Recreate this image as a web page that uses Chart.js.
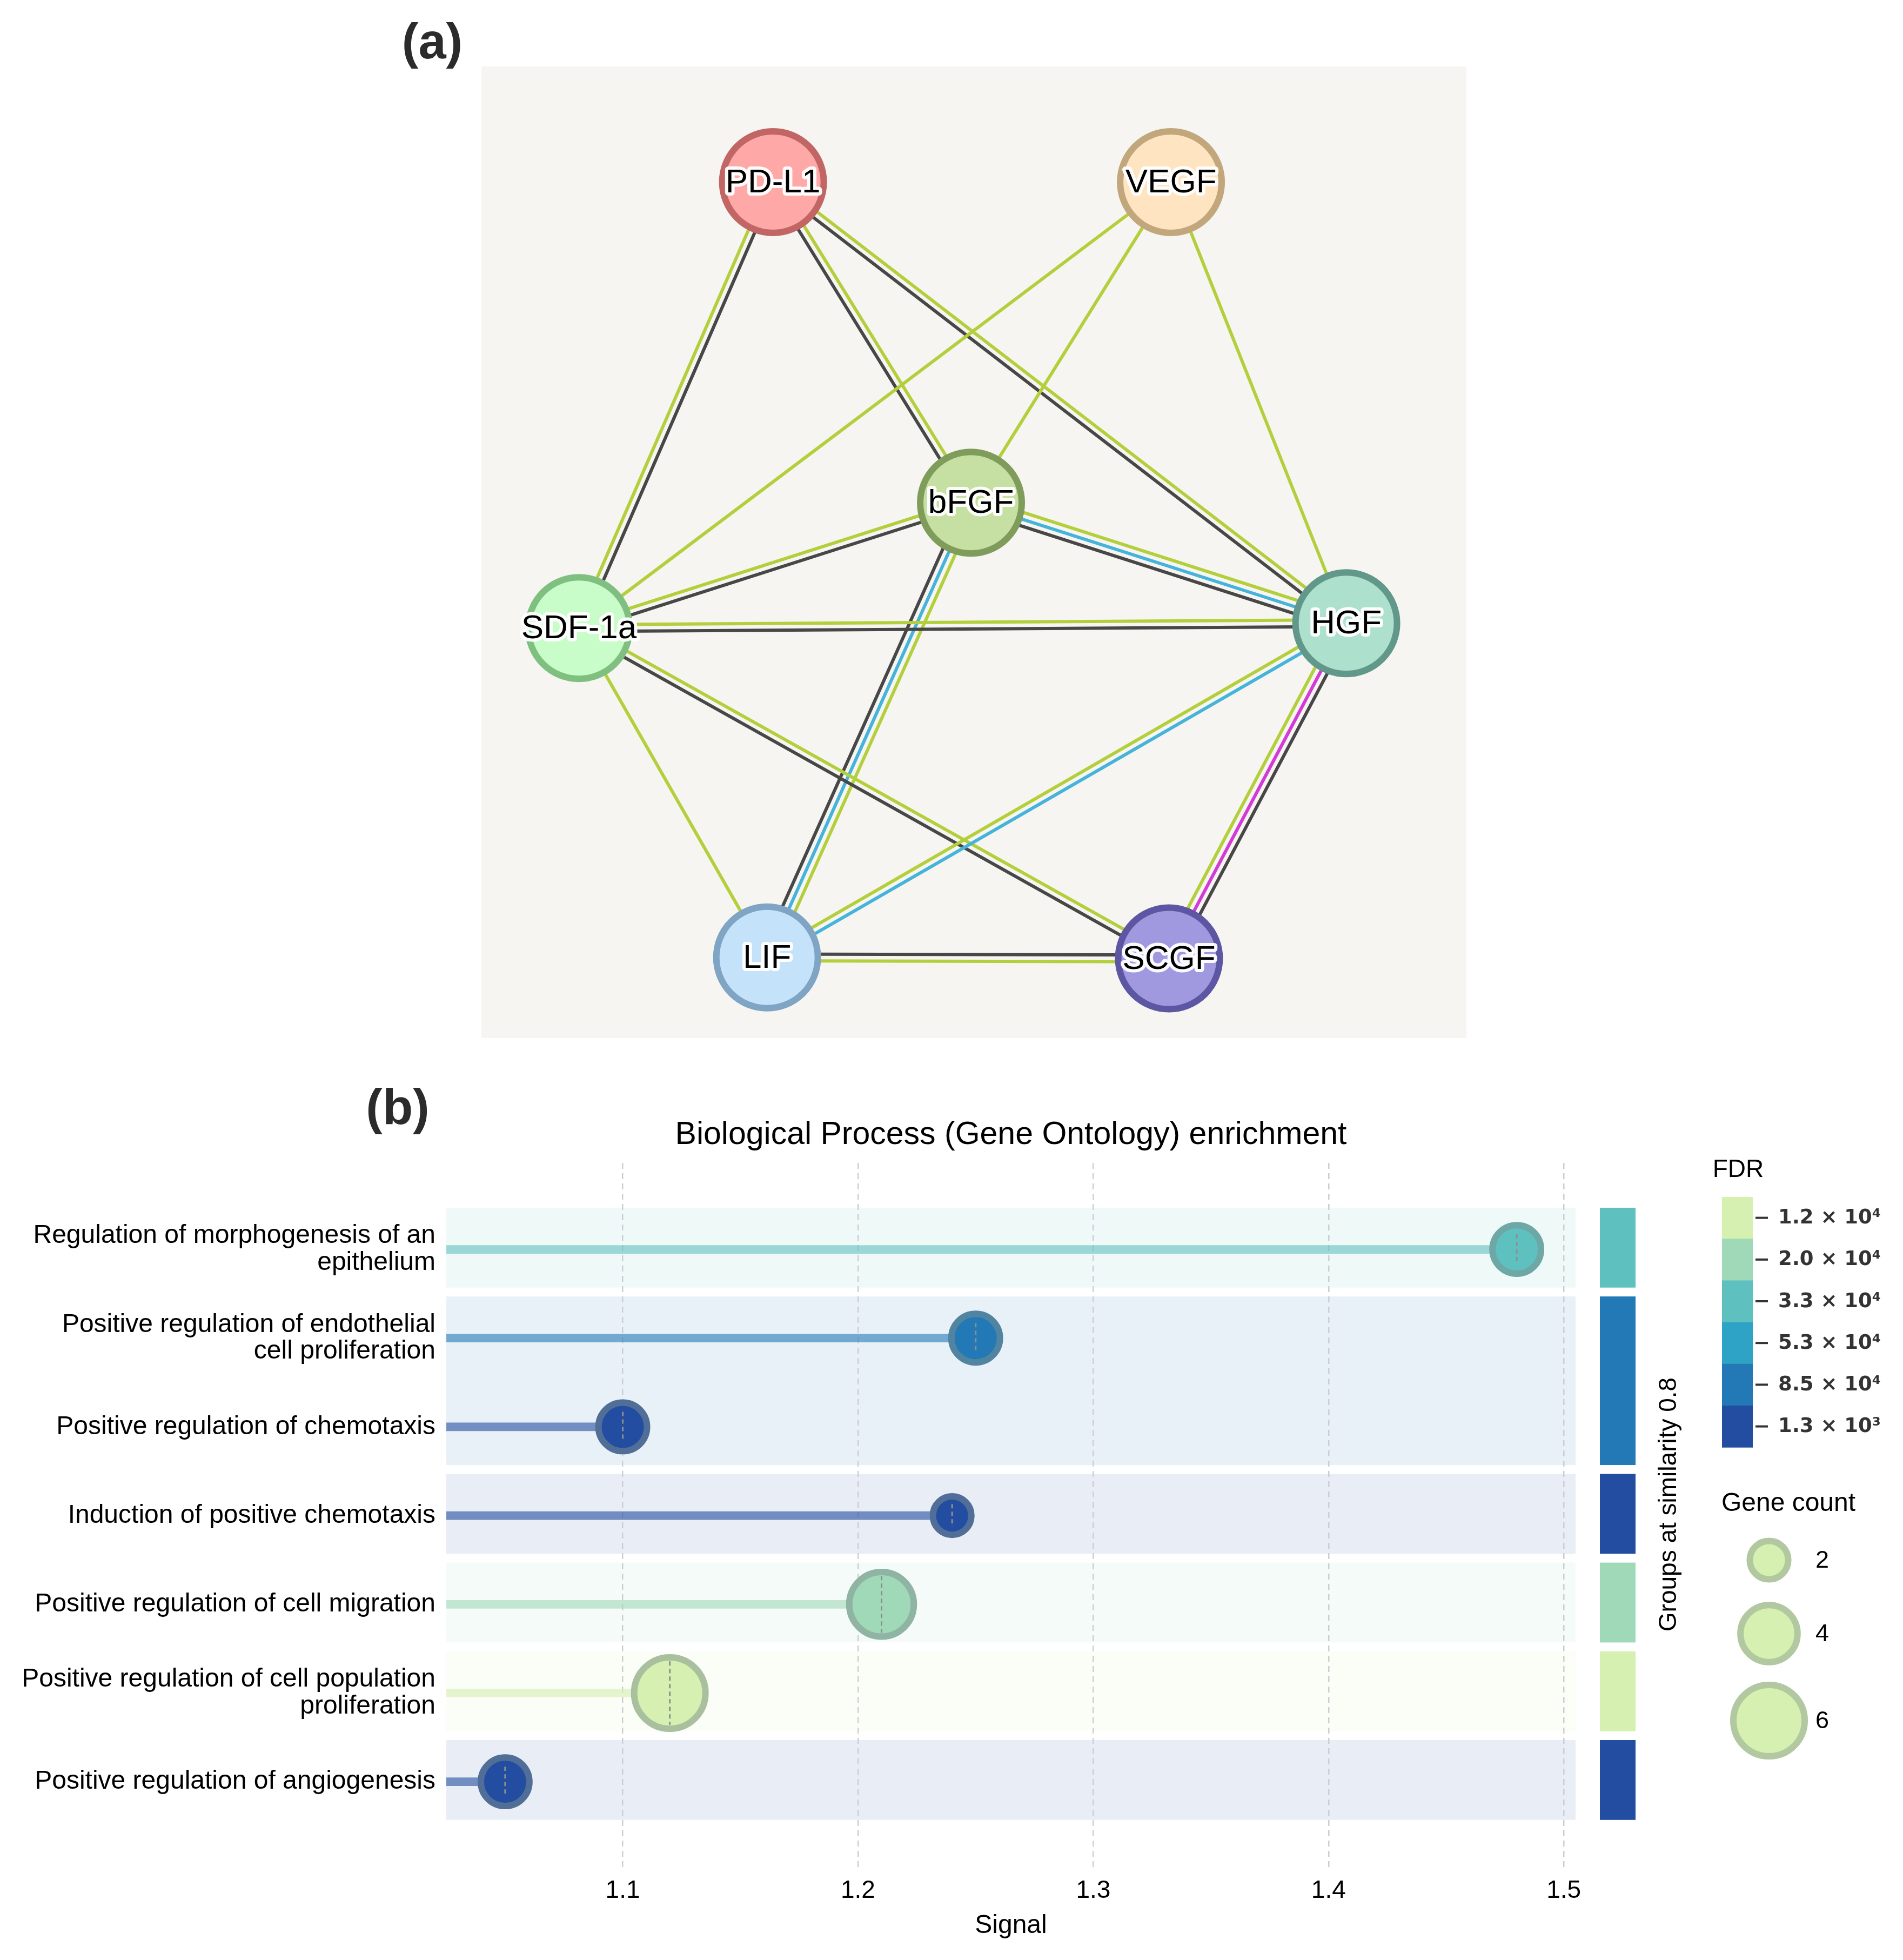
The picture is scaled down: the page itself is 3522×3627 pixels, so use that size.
<!DOCTYPE html>
<html>
<head>
<meta charset="utf-8">
<title>Network and GO enrichment</title>
<script src="https://cdn.jsdelivr.net/npm/chart.js@4.4.1/dist/chart.umd.min.js"></script>
<style>
  html, body { margin: 0; padding: 0; background: #fff; }
  body { width: 3522px; height: 3627px; position: relative; overflow: hidden; }
  canvas { position: absolute; left: 0; }
  #network { top: 0; }
  #enrichment { top: 1950px; }
</style>
</head>
<body>
<canvas id="network" width="3522" height="1950"></canvas>
<canvas id="enrichment" width="3522" height="1677"></canvas>
<script>
// ---------- panel (a): protein interaction network ----------
const proteins = ['PD-L1', 'VEGF', 'bFGF', 'SDF-1a', 'HGF', 'LIF', 'SCGF'];
// layout position of each node, in percent of the panel
const proteinX = [29.6, 70.0, 49.7, 9.9, 87.8, 29.0, 69.8];
const proteinY = [11.9, 11.9, 44.9, 57.8, 57.3, 91.7, 91.8];

// edges (index into proteins) and their evidence channels
const edgeFrom = [0, 0, 0, 1, 1, 1, 3, 2, 2, 3, 3, 3, 4, 4, 5];
const edgeTo   = [3, 2, 4, 3, 2, 4, 2, 4, 5, 4, 5, 6, 5, 6, 6];
const edgeKinds = [
  ['coexp', 'text'],
  ['text', 'coexp'],
  ['text', 'coexp'],
  ['text'],
  ['text'],
  ['text'],
  ['text', 'coexp'],
  ['text', 'db', 'coexp'],
  ['text', 'db', 'coexp'],
  ['text', 'coexp'],
  ['text'],
  ['text', 'coexp'],
  ['db', 'text'],
  ['coexp', 'exp', 'text'],
  ['coexp', 'text']
];

// ---------- panel (b): GO biological process enrichment ----------
const processes = [
  ['Regulation of morphogenesis of an', 'epithelium'],
  ['Positive regulation of endothelial', 'cell proliferation'],
  'Positive regulation of chemotaxis',
  'Induction of positive chemotaxis',
  'Positive regulation of cell migration',
  ['Positive regulation of cell population', 'proliferation'],
  'Positive regulation of angiogenesis'
];
const signal    = [1.48, 1.25, 1.10, 1.24, 1.21, 1.12, 1.05];
const geneCount = [3, 3, 3, 2, 5, 6, 3];
const rowFdr    = [2, 4, 5, 5, 1, 0, 5];     // index into fdrLabels
const rowGroup  = [0, 1, 1, 2, 3, 4, 5];     // similarity group of each row
const groupFdr  = [2, 4, 5, 1, 0, 5];

const fdrLabels = ['1.2 × 10⁴', '2.0 × 10⁴', '3.3 × 10⁴', '5.3 × 10⁴', '8.5 × 10⁴', '1.3 × 10³'];
const signalTicks = [1.1, 1.2, 1.3, 1.4, 1.5];
const signalTickLabels = ['1.1', '1.2', '1.3', '1.4', '1.5'];
const geneCountLegend = [2, 4, 6];

// ---------- styles ----------
const FONT = '"Liberation Sans", Arial, Helvetica, sans-serif';
Chart.defaults.font.family = FONT;
Chart.defaults.color = '#000';

const channelColor = { text: '#b3cf3c', coexp: '#474747', db: '#45b3da', exp: '#d43ad6' };
const nodeFill   = ['#ffa8a8', '#ffe4c1', '#c6dfa3', '#c8fcc9', '#aee0ce', '#c4e3fb', '#a099e0'];
const nodeStroke = ['#c16565', '#c2a77c', '#7f9c5b', '#7fbf80', '#62988a', '#7fa4c4', '#5d56a2'];
const fdrColors = ['#d5f0b0', '#a0d9b8', '#5fc1bf', '#2ea3c5', '#2279b5', '#234da0'];

function rgb(hex) {
  const n = parseInt(hex.slice(1), 16);
  return [(n >> 16) & 255, (n >> 8) & 255, n & 255];
}
function alpha(hex, a) {
  const [r, g, b] = rgb(hex);
  return `rgba(${r},${g},${b},${a})`;
}
function mix(hex, other, t) {
  const a = rgb(hex), b = rgb(other);
  return 'rgb(' + a.map((v, i) => Math.round(v * (1 - t) + b[i] * t)).join(',') + ')';
}
// outer radius of a gene-count bubble
const bubbleRadius = n => 29.4 * Math.sqrt(n);
const BUBBLE_BORDER = 12;

// ---------- chart (a) ----------
const networkPlugin = {
  id: 'network',
  beforeDraw(chart) {
    const { ctx, chartArea: a } = chart;
    ctx.save();
    ctx.fillStyle = '#f6f5f2';
    ctx.fillRect(a.left, a.top, a.right - a.left, a.bottom - a.top);
    ctx.restore();
  },
  beforeDatasetsDraw(chart) {
    const { ctx, scales: { x, y } } = chart;
    ctx.save();
    ctx.lineWidth = 6;
    edgeFrom.forEach((from, e) => {
      const to = edgeTo[e];
      const x1 = x.getPixelForValue(proteinX[from]), y1 = y.getPixelForValue(proteinY[from]);
      const x2 = x.getPixelForValue(proteinX[to]), y2 = y.getPixelForValue(proteinY[to]);
      const len = Math.hypot(x2 - x1, y2 - y1);
      const nx = -(y2 - y1) / len, ny = (x2 - x1) / len;
      const kinds = edgeKinds[e];
      kinds.forEach((k, i) => {
        const off = (i - (kinds.length - 1) / 2) * 12.5;
        ctx.strokeStyle = channelColor[k];
        ctx.beginPath();
        ctx.moveTo(x1 + nx * off, y1 + ny * off);
        ctx.lineTo(x2 + nx * off, y2 + ny * off);
        ctx.stroke();
      });
    });
    ctx.restore();
  },
  afterDatasetsDraw(chart) {
    const { ctx } = chart;
    const pts = chart.getDatasetMeta(0).data;
    ctx.save();
    ctx.font = '62px ' + FONT;
    ctx.textAlign = 'center';
    ctx.textBaseline = 'middle';
    ctx.lineJoin = 'round';
    pts.forEach((p, i) => {
      ctx.strokeStyle = 'rgba(255,255,255,0.95)';
      ctx.lineWidth = 12;
      ctx.strokeText(proteins[i], p.x, p.y + 2);
      ctx.fillStyle = '#000';
      ctx.fillText(proteins[i], p.x, p.y + 2);
    });
    ctx.restore();
  },
  afterDraw(chart) {
    const { ctx } = chart;
    ctx.save();
    ctx.font = 'bold 92px ' + FONT;
    ctx.fillStyle = '#2b2b2b';
    ctx.textAlign = 'center';
    ctx.textBaseline = 'middle';
    ctx.fillText('(a)', 800, 83);
    ctx.restore();
  }
};

new Chart(document.getElementById('network'), {
  type: 'scatter',
  data: {
    datasets: [{
      data: proteins.map((p, i) => ({ x: proteinX[i], y: proteinY[i] })),
      pointRadius: 94,
      pointBorderWidth: 12,
      pointBackgroundColor: nodeFill,
      pointBorderColor: nodeStroke,
      clip: false
    }]
  },
  options: {
    responsive: false,
    devicePixelRatio: 1,
    animation: false,
    events: [],
    layout: { autoPadding: false, padding: { left: 891, right: 808, top: 123, bottom: 29 } },
    scales: {
      x: { display: false, min: 0, max: 100 },
      y: { display: false, min: 0, max: 100, reverse: true }
    },
    plugins: { legend: { display: false }, tooltip: { enabled: false } }
  },
  plugins: [networkPlugin]
});

// ---------- chart (b) ----------
const signalMin = 1.025, signalMax = 1.505;

const enrichmentPlugin = {
  id: 'enrichment',
  beforeDraw(chart) {
    const { ctx, chartArea: a, scales: { y } } = chart;
    ctx.save();
    const groups = [...new Set(rowGroup)];
    groups.forEach(g => {
      const rows = rowGroup.map((v, i) => v === g ? i : -1).filter(i => i >= 0);
      const top = y.getPixelForValue(rows[0] - 0.47);
      const bottom = y.getPixelForValue(rows[rows.length - 1] + 0.43);
      const col = fdrColors[groupFdr[g]];
      ctx.fillStyle = alpha(col, 0.1);
      ctx.fillRect(a.left, top, a.right - a.left, bottom - top);
      ctx.fillStyle = col;
      ctx.fillRect(a.right + 45, top, 66, bottom - top);
    });
    ctx.restore();
  },
  afterDatasetsDraw(chart) {
    const { ctx } = chart;
    const pts = chart.getDatasetMeta(1).data;
    ctx.save();
    ctx.strokeStyle = '#8b9090';
    ctx.lineWidth = 3;
    ctx.setLineDash([8, 6]);
    pts.forEach((p, i) => {
      const inner = bubbleRadius(geneCount[i]) - BUBBLE_BORDER;
      const half = geneCount[i] > 3 ? inner * 0.98 : inner * 0.72;
      ctx.beginPath();
      ctx.moveTo(p.x, p.y - half);
      ctx.lineTo(p.x, p.y + half);
      ctx.stroke();
    });
    ctx.restore();
  },
  afterDraw(chart) {
    const { ctx, chartArea: a } = chart;
    ctx.save();
    ctx.textBaseline = 'middle';

    // panel letter and title
    ctx.fillStyle = '#2b2b2b';
    ctx.font = 'bold 92px ' + FONT;
    ctx.textAlign = 'center';
    ctx.fillText('(b)', 736, 105);
    ctx.fillStyle = '#000';
    ctx.font = '59px ' + FONT;
    ctx.fillText('Biological Process (Gene Ontology) enrichment', (a.left + a.right) / 2, 151);

    // group axis label
    ctx.save();
    ctx.translate(a.right + 173, 834);
    ctx.rotate(-Math.PI / 2);
    ctx.font = '46px ' + FONT;
    ctx.fillText('Groups at similarity 0.8', 0, 0);
    ctx.restore();

    // FDR colour key
    ctx.font = '46px ' + FONT;
    ctx.fillText('FDR', 3217, 215);
    const segH = 77.2, barTop = 265;
    fdrLabels.forEach((lab, i) => {
      const yTop = barTop + i * segH;
      ctx.fillStyle = fdrColors[i];
      ctx.fillRect(3187, yTop, 57, segH + 0.5);
      ctx.fillStyle = '#333';
      ctx.fillRect(3249, yTop + segH / 2 - 2, 23, 4);
      ctx.textAlign = 'left';
      ctx.font = 'bold 37px "DejaVu Sans", sans-serif';
      ctx.fillText(lab, 3291, yTop + segH / 2 + 1);
    });

    // gene count key
    ctx.textAlign = 'center';
    ctx.fillStyle = '#000';
    ctx.font = '48px ' + FONT;
    ctx.fillText('Gene count', 3310, 833);
    const keyY = [937, 1073, 1234];
    geneCountLegend.forEach((n, i) => {
      const r = bubbleRadius(n) - BUBBLE_BORDER / 2;
      ctx.beginPath();
      ctx.arc(3274, keyY[i], r, 0, Math.PI * 2);
      ctx.fillStyle = fdrColors[0];
      ctx.fill();
      ctx.lineWidth = BUBBLE_BORDER;
      ctx.strokeStyle = mix(fdrColors[0], '#8f9f8f', 0.5);
      ctx.stroke();
      ctx.fillStyle = '#000';
      ctx.textAlign = 'left';
      ctx.font = '45px ' + FONT;
      ctx.fillText(String(n), 3360, keyY[i] + 2);
      ctx.textAlign = 'center';
    });
    ctx.restore();
  }
};

new Chart(document.getElementById('enrichment'), {
  type: 'scatter',
  data: {
    datasets: [
      {
        type: 'bar',
        indexAxis: 'y',
        data: signal.map((v, i) => ({ x: [signalMin, v], y: i })),
        barThickness: 15,
        backgroundColor: c => alpha(fdrColors[rowFdr[c.dataIndex]], 0.6),
        borderWidth: 0,
        borderSkipped: false,
        order: 2
      },
      {
        type: 'scatter',
        data: signal.map((v, i) => ({ x: v, y: i })),
        pointRadius: c => bubbleRadius(geneCount[c.dataIndex]) - BUBBLE_BORDER / 2,
        pointBorderWidth: BUBBLE_BORDER,
        pointBackgroundColor: c => fdrColors[rowFdr[c.dataIndex]],
        pointBorderColor: c => mix(fdrColors[rowFdr[c.dataIndex]], '#7d8f8d', 0.5),
        clip: false,
        order: 1
      }
    ]
  },
  options: {
    responsive: false,
    devicePixelRatio: 1,
    animation: false,
    events: [],
    layout: { autoPadding: false, padding: { left: 0, right: 606, top: 202, bottom: 24 } },
    scales: {
      x: {
        type: 'linear',
        min: signalMin,
        max: signalMax,
        offset: false,
        afterBuildTicks: s => { s.ticks = signalTicks.map(v => ({ value: v })); },
        afterFit: s => { s.height = 140; },
        ticks: {
          callback: (v, i) => signalTickLabels[i],
          font: { size: 46 },
          color: '#000',
          padding: 9,
          maxRotation: 0,
          autoSkip: false
        },
        grid: { drawTicks: false, color: '#cdced4', lineWidth: 2.5, offset: false },
        border: { display: false, dash: [11, 8] },
        title: { display: true, text: 'Signal', font: { size: 48 }, color: '#000', padding: { top: 0, bottom: 10 } }
      },
      y: {
        type: 'linear',
        min: -0.975,
        max: 7.01,
        reverse: true,
        offset: false,
        afterBuildTicks: s => { s.ticks = processes.map((p, i) => ({ value: i })); },
        afterFit: s => { s.width = 826; },
        ticks: {
          callback: (v, i) => processes[i],
          font: { size: 48, lineHeight: 1.04 },
          color: '#000',
          padding: 12,
          autoSkip: false
        },
        grid: { display: false, offset: false },
        border: { display: false }
      }
    },
    plugins: { legend: { display: false }, tooltip: { enabled: false } }
  },
  plugins: [enrichmentPlugin]
});
</script>
</body>
</html>
